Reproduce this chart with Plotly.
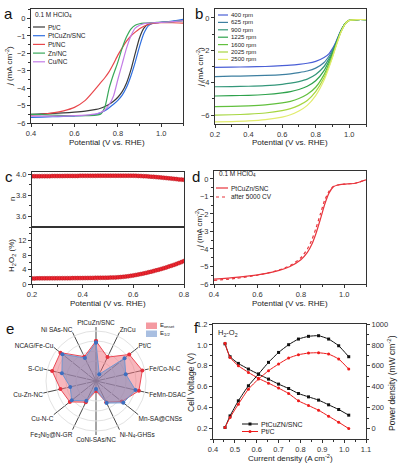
import plotly.graph_objects as go

W, H = 399, 464
FONT = "Liberation Sans, Arial, sans-serif"


def px(x):
    return x / W


def py(y):
    return 1 - y / H


# ---------------- Panel a data ----------------
a_potential = [0.40, 0.45, 0.50, 0.55, 0.60, 0.65, 0.70, 0.72, 0.74, 0.76, 0.78, 0.80,
               0.82, 0.84, 0.86, 0.88, 0.90, 0.92, 0.94, 0.96, 0.98, 1.00, 1.05, 1.10]
a_names = ["Pt/C", "PtCuZn/SNC", "Pt/NC", "Zn/NC", "Cu/NC"]
a_colors = ["#3a3a3a", "#2f6fe0", "#e8474c", "#38a85a", "#c27ce6"]
a_ptc = [-5.50, -5.48, -5.45, -5.42, -5.38, -5.32, -5.22, -5.15, -5.05, -4.92, -4.75, -4.52,
         -4.20, -3.70, -2.95, -2.00, -1.10, -0.55, -0.33, -0.26, -0.23, -0.22, -0.18, -0.10]
a_ptcuzn = [-5.68, -5.66, -5.64, -5.62, -5.60, -5.57, -5.50, -5.42, -5.30, -5.12, -4.92, -4.70,
            -4.40, -3.95, -3.30, -2.50, -1.60, -0.85, -0.42, -0.28, -0.23, -0.21, -0.15, -0.05]
a_ptnc = [-5.55, -5.50, -5.42, -5.30, -5.10, -4.70, -4.00, -3.70, -3.40, -3.05, -2.60, -2.10,
          -1.68, -1.30, -1.00, -0.78, -0.58, -0.44, -0.34, -0.28, -0.25, -0.24, -0.24, -0.26]
a_znnc = [-5.50, -5.52, -5.55, -5.57, -5.58, -5.58, -5.55, -5.50, -5.10, -4.00, -3.20, -2.50,
          -1.70, -1.05, -0.60, -0.38, -0.30, -0.26, -0.24, -0.23, -0.22, -0.21, -0.17, -0.12]
a_cunc = [-5.60, -5.60, -5.60, -5.60, -5.58, -5.55, -5.48, -5.40, -5.25, -4.95, -4.45, -3.50,
          -2.60, -1.70, -1.00, -0.55, -0.38, -0.30, -0.26, -0.24, -0.23, -0.22, -0.18, -0.12]
a_series = [a_ptc, a_ptcuzn, a_ptnc, a_znnc, a_cunc]

# ---------------- Panel b data ----------------
b_potential = [0.20, 0.30, 0.40, 0.50, 0.60, 0.65, 0.70, 0.75, 0.80, 0.85, 0.88, 0.90,
               0.92, 0.95, 0.98, 1.00, 1.05, 1.10]
b_names = ["400 rpm", "625 rpm", "900 rpm", "1225 rpm", "1600 rpm", "2025 rpm", "2500 rpm"]
b_colors = ["#4a5fd6", "#3d7fa0", "#34977a", "#2ea24c", "#62c03e", "#a6d640", "#e2ec6e"]
b_400 = [-3.05, -3.04, -3.02, -3.00, -2.95, -2.92, -2.87, -2.80, -2.68, -2.45, -2.20, -1.90,
         -1.50, -0.80, -0.30, -0.15, -0.10, -0.10]
b_625 = [-3.62, -3.60, -3.58, -3.55, -3.50, -3.45, -3.38, -3.28, -3.10, -2.75, -2.35, -2.00,
         -1.55, -0.80, -0.30, -0.15, -0.10, -0.10]
b_900 = [-4.25, -4.24, -4.22, -4.18, -4.10, -4.03, -3.93, -3.78, -3.50, -3.00, -2.50, -2.10,
         -1.60, -0.82, -0.30, -0.15, -0.10, -0.10]
b_1225 = [-4.82, -4.80, -4.78, -4.73, -4.63, -4.55, -4.42, -4.22, -3.88, -3.25, -2.65, -2.20,
          -1.65, -0.84, -0.30, -0.15, -0.10, -0.10]
b_1600 = [-5.48, -5.46, -5.43, -5.37, -5.25, -5.15, -4.98, -4.72, -4.28, -3.50, -2.80, -2.30,
          -1.70, -0.86, -0.30, -0.15, -0.10, -0.10]
b_2025 = [-6.00, -5.98, -5.94, -5.87, -5.72, -5.60, -5.40, -5.10, -4.55, -3.70, -2.95, -2.40,
          -1.75, -0.88, -0.32, -0.15, -0.10, -0.10]
b_2500 = [-6.42, -6.40, -6.36, -6.28, -6.12, -5.98, -5.75, -5.40, -4.80, -3.85, -3.05, -2.45,
          -1.80, -0.90, -0.32, -0.15, -0.10, -0.10]
b_series = [b_400, b_625, b_900, b_1225, b_1600, b_2025, b_2500]

# ---------------- Panel c data ----------------
c_potential = [round(0.20 + 0.01 * i, 2) for i in range(61)]
c_n = [3.980, 3.980, 3.980, 3.980, 3.981, 3.981, 3.981, 3.981, 3.982, 3.982,
       3.982, 3.982, 3.982, 3.983, 3.983, 3.983, 3.983, 3.983, 3.983, 3.984,
       3.984, 3.984, 3.984, 3.984, 3.984, 3.984, 3.985, 3.985, 3.985, 3.985,
       3.985, 3.985, 3.985, 3.985, 3.985, 3.985, 3.985, 3.985, 3.985, 3.985,
       3.985, 3.984, 3.983, 3.982, 3.981, 3.980, 3.978, 3.976, 3.974, 3.972,
       3.970, 3.968, 3.965, 3.963, 3.960, 3.958, 3.955, 3.953, 3.950, 3.948,
       3.946]
c_h2o2 = [1.55, 1.55, 1.56, 1.56, 1.57, 1.57, 1.58, 1.58, 1.59, 1.59,
          1.60, 1.60, 1.61, 1.61, 1.62, 1.62, 1.63, 1.63, 1.64, 1.64,
          1.65, 1.66, 1.67, 1.68, 1.69, 1.70, 1.71, 1.72, 1.73, 1.74,
          1.76, 1.78, 1.80, 1.83, 1.87, 1.92, 1.98, 2.06, 2.15, 2.26,
          2.38, 2.50, 2.63, 2.77, 2.92, 3.08, 3.24, 3.41, 3.59, 3.78,
          3.97, 4.17, 4.38, 4.60, 4.83, 5.06, 5.30, 5.55, 5.81, 6.08,
          6.36]

# ---------------- Panel d data ----------------
d_potential = [0.40, 0.50, 0.60, 0.70, 0.75, 0.80, 0.83, 0.85, 0.87, 0.89, 0.91, 0.93,
               0.95, 0.97, 1.00, 1.05, 1.10]
d_fresh = [-5.72, -5.62, -5.48, -5.22, -5.00, -4.62, -4.20, -3.75, -3.10, -2.30, -1.45, -0.80,
           -0.45, -0.35, -0.30, -0.25, -0.05]
d_after = [-5.80, -5.68, -5.50, -5.20, -4.95, -4.50, -4.00, -3.50, -2.80, -2.00, -1.20, -0.70,
           -0.42, -0.35, -0.30, -0.25, -0.05]

# ---------------- Panel e data ----------------
e_catalysts = ["PtCuZn/SNC", "ZnCu", "Pt/C", "Fe/Co-N-C", "FeMn-DSAC", "Mn-SA@CNSs",
               "Ni-N<sub>4</sub>-GHSs", "CoNi-SAs/NC", "Fe<sub>3</sub>Ni<sub>3</sub>@N-GR",
               "Cu-N-C", "Cu-Zn-NC", "S-Cu", "NCAG/Fe-Cu", "Ni SAs-NC"]
e_onset = [0.80, 0.53, 0.85, 0.95, 0.88, 0.66, 0.47, 0.20, 0.47, 0.67, 0.73, 0.90, 0.91, 0.54]
e_half = [0.77, 0.15, 0.73, 0.61, 0.81, 0.70, 0.49, 0.16, 0.44, 0.62, 0.53, 0.70, 0.86, 0.51]

# ---------------- Panel f data ----------------
f_current = [0.455, 0.478, 0.516, 0.562, 0.608, 0.654, 0.700, 0.746, 0.791, 0.837,
             0.883, 0.929, 0.975, 1.021]
f_v_ptcuzn = [1.01, 0.887, 0.823, 0.769, 0.720, 0.673, 0.625, 0.583, 0.535, 0.503,
              0.472, 0.427, 0.382, 0.328]
f_v_ptc = [1.015, 0.880, 0.800, 0.737, 0.680, 0.634, 0.587, 0.535, 0.465, 0.420,
           0.375, 0.318, 0.260, 0.200]
f_p_ptcuzn = [10, 121, 265, 409, 521, 633, 728, 802, 856, 882, 888, 856, 792, 687]
f_p_ptc = [10, 105, 233, 377, 473, 553, 617, 674, 706, 722, 725, 712, 665, 569]

# ---------------- figure ----------------
fig = go.Figure()

for name, col, ys in zip(a_names, a_colors, a_series):
    fig.add_trace(go.Scatter(x=a_potential, y=ys, mode="lines", name=name,
                             line=dict(color=col, width=1.2, shape="spline", smoothing=0.6),
                             xaxis="x", yaxis="y", showlegend=False))

for name, col, ys in zip(b_names, b_colors, b_series):
    fig.add_trace(go.Scatter(x=b_potential, y=ys, mode="lines", name=name,
                             line=dict(color=col, width=1.2, shape="spline", smoothing=0.6),
                             xaxis="x2", yaxis="y2", showlegend=False))

mk = dict(color="#ee2630", size=4, line=dict(color="#b5121b", width=0.5))
fig.add_trace(go.Scatter(x=c_potential, y=c_n, mode="markers", marker=mk,
                         xaxis="x3", yaxis="y3", showlegend=False))
fig.add_trace(go.Scatter(x=c_potential, y=c_h2o2, mode="markers", marker=mk,
                         xaxis="x4", yaxis="y4", showlegend=False))

fig.add_trace(go.Scatter(x=d_potential, y=d_fresh, mode="lines",
                         line=dict(color="#e8343c", width=1.2, shape="spline", smoothing=0.6),
                         xaxis="x5", yaxis="y5", showlegend=False))
fig.add_trace(go.Scatter(x=d_potential, y=d_after, mode="lines",
                         line=dict(color="#e8343c", width=1.2, dash="dot", shape="spline", smoothing=0.6),
                         xaxis="x5", yaxis="y5", showlegend=False))

# radar
fig.add_trace(go.Scatterpolar(r=e_onset + e_onset[:1], theta=e_catalysts + e_catalysts[:1],
                              fill="toself", fillcolor="rgba(240,110,122,0.5)",
                              line=dict(color="#ea4a56", width=1),
                              marker=dict(color="#e8303c", size=4), mode="lines+markers",
                              showlegend=False))
fig.add_trace(go.Scatterpolar(r=e_half + e_half[:1], theta=e_catalysts + e_catalysts[:1],
                              fill="toself", fillcolor="rgba(120,140,190,0.55)",
                              line=dict(color="#7096d0", width=1),
                              marker=dict(color="#3d6fc0", size=4), mode="lines+markers",
                              showlegend=False))

# panel f
fig.add_trace(go.Scatter(x=f_current, y=f_v_ptcuzn, mode="lines+markers",
                         line=dict(color="#111", width=1, shape="spline", smoothing=0.5),
                         marker=dict(symbol="square", size=3, color="#111"),
                         xaxis="x6", yaxis="y6", showlegend=False))
fig.add_trace(go.Scatter(x=f_current, y=f_v_ptc, mode="lines+markers",
                         line=dict(color="#ee1c1c", width=1, shape="spline", smoothing=0.5),
                         marker=dict(symbol="circle", size=3, color="#ee1c1c"),
                         xaxis="x6", yaxis="y6", showlegend=False))
fig.add_trace(go.Scatter(x=f_current, y=f_p_ptcuzn, mode="lines+markers",
                         line=dict(color="#111", width=1, shape="spline", smoothing=0.5),
                         marker=dict(symbol="square", size=3, color="#111"),
                         xaxis="x6", yaxis="y7", showlegend=False))
fig.add_trace(go.Scatter(x=f_current, y=f_p_ptc, mode="lines+markers",
                         line=dict(color="#ee1c1c", width=1, shape="spline", smoothing=0.5),
                         marker=dict(symbol="circle", size=3, color="#ee1c1c"),
                         xaxis="x6", yaxis="y7", showlegend=False))


def axis(x0, x1, rng, dtick, mdtick, anchor, fmt=None, labels=True, ticks="outside",
         tick0=None, side=None, overlaying=None, mirror=True):
    d = dict(range=rng, dtick=dtick, anchor=anchor, showline=True, linecolor="#333",
             linewidth=1, mirror=mirror, ticks=ticks, ticklen=3, tickwidth=1,
             tickcolor="#333", tickfont=dict(size=7.5, color="#333", family=FONT),
             showgrid=False, zeroline=False, showticklabels=labels, automargin=False,
             minor=dict(dtick=mdtick, ticks=ticks, ticklen=1.6, tickcolor="#333", showgrid=False))
    if x0 is not None:
        d["domain"] = [x0, x1]
    if fmt:
        d["tickformat"] = fmt
    if tick0 is not None:
        d["tick0"] = tick0
    if side:
        d["side"] = side
    if overlaying:
        d["overlaying"] = overlaying
    return d


layout = dict(width=W, height=H, margin=dict(l=0, r=0, t=0, b=0, pad=0),
              paper_bgcolor="white", plot_bgcolor="white",
              font=dict(family=FONT, size=8, color="#333"))

# a
layout["xaxis"] = axis(px(31), px(183), [0.4, 1.1], 0.2, 0.1, "y", ".1f")
layout["yaxis"] = axis(py(123), py(9), [-6, 0.55], 1, 0.5, "x")
# b
layout["xaxis2"] = axis(px(215), px(366), [0.2, 1.1], 0.2, 0.1, "y2", ".1f")
layout["yaxis2"] = axis(py(124), py(9), [-6.55, 0.55], 2, 1, "x2")
# c top
layout["xaxis3"] = axis(px(32), px(184), [0.2, 0.8], 0.2, 0.1, "y3", ".1f", labels=False, ticks="")
layout["yaxis3"] = axis(py(227), py(172), [3.5, 4.02], 0.2, 0.1, "x3", ".1f")
# c bottom
layout["xaxis4"] = axis(px(32), px(184), [0.2, 0.8], 0.2, 0.1, "y4", ".1f")
layout["yaxis4"] = axis(py(284), py(227), [0, 15.8], 4, 2, "x4")
# d
layout["xaxis5"] = axis(px(214), px(366), [0.4, 1.1], 0.2, 0.1, "y5", ".1f")
layout["yaxis5"] = axis(py(284), py(171), [-6, 0.45], 1, 0.5, "x5")
# f
layout["xaxis6"] = axis(px(213), px(366), [0.4, 1.1], 0.1, 0.05, "y6", ".1f")
layout["yaxis6"] = axis(py(439), py(324), [0.1, 1.2], 0.2, 0.1, "x6", ".1f", mirror=False)
layout["yaxis7"] = axis(None, None, [-100, 1000], 200, 100, "x6", side="right",
                        overlaying="y6", mirror=False)

layout["polar"] = dict(
    domain=dict(x=[px(42), px(150)], y=[py(435), py(327)]),
    bgcolor="white",
    radialaxis=dict(range=[0, 1.08], tickvals=[0.2, 0.4, 0.6, 0.8, 1.0],
                    showticklabels=False, ticks="", showline=False,
                    gridcolor="#e2e2e2", gridwidth=0.8),
    angularaxis=dict(direction="clockwise", rotation=90, showline=False, ticks="",
                     gridcolor="#4a4a4a", gridwidth=1.4, layer="above traces",
                     tickfont=dict(size=6.5, color="#222", family=FONT)),
)

shapes = []
annos = []


def text(x, y, s, size=7, xanchor="left", angle=0, color="#222"):
    annos.append(dict(x=px(x), y=py(y), xref="paper", yref="paper", text=s, showarrow=False,
                      xanchor=xanchor, yanchor="middle", textangle=angle,
                      font=dict(size=size, color=color, family=FONT)))


def seg(x0, x1, y, color, dash="solid", width=1.2):
    shapes.append(dict(type="line", xref="paper", yref="paper", x0=px(x0), x1=px(x1),
                       y0=py(y), y1=py(y), line=dict(color=color, width=width, dash=dash)))


def box(x0, x1, y0, y1, color, line="rgba(0,0,0,0)", kind="rect"):
    shapes.append(dict(type=kind, xref="paper", yref="paper", x0=px(x0), x1=px(x1),
                       y0=py(y1), y1=py(y0), fillcolor=color, line=dict(color=line, width=0.5)))


# panel letters
for letter, lx, ly in [("a", 2, 13), ("b", 193, 13), ("c", 3, 176), ("d", 190, 176),
                       ("e", 4, 328), ("f", 192, 327)]:
    text(lx, ly, letter, size=15, color="#111")

# axis titles
jlab = "<i>j</i> (mA cm<sup>-2</sup>)"
pot = "Potential (V vs. RHE)"
text(9, 66, jlab, size=8, xanchor="center", angle=-90)
text(107, 142.5, pot, size=8, xanchor="center")
text(200, 67, jlab, size=8, xanchor="center", angle=-90)
text(290, 142.5, pot, size=8, xanchor="center")
text(12, 199, "n", size=8, xanchor="center", angle=-90)
text(12, 256, "H<sub>2</sub>O<sub>2</sub> (%)", size=8, xanchor="center", angle=-90)
text(108, 303.5, pot, size=8, xanchor="center")
text(199, 228, jlab, size=8, xanchor="center", angle=-90)
text(290, 303.5, pot, size=8, xanchor="center")
text(191, 383, "Cell Voltage (V)", size=8.5, xanchor="center", angle=-90)
text(391, 383, "Power density (mW cm<sup>-2</sup>)", size=8.5, xanchor="center", angle=-90)
text(290, 457.5, "Current density (A cm<sup>-2</sup>)", size=8, xanchor="center")

# legend a
text(33, 15, "0.1 M HClO<sub>4</sub>", size=6.5)
for i, (name, col) in enumerate(zip(a_names, a_colors)):
    yy = 27 + 8.7 * i
    seg(33, 45, yy, col)
    text(46, yy, name, size=6.5)

# legend b
for i, (name, col) in enumerate(zip(b_names, b_colors)):
    yy = 15 + 7.4 * i
    seg(218, 228, yy, col)
    text(229, yy, name, size=6)

# legend d
text(217, 173.5, "0.1 M HClO<sub>4</sub>", size=6.5)
seg(216, 228, 188, "#e8343c")
text(229, 188, "PtCuZn/SNC", size=6.5)
seg(216, 228, 197, "#e8343c", dash="dot")
text(229, 197, "after 5000 CV", size=6.5)

# legend e
box(146, 157, 322.5, 329, "rgba(240,120,130,0.75)")
box(146, 157, 330.5, 337, "rgba(140,170,215,0.75)")
text(158, 325.5, "E<sub>onset</sub>", size=6)
text(158, 333.5, "E<sub>1/2</sub>", size=6)

# legend f
text(216, 333, "H<sub>2</sub>-O<sub>2</sub>", size=7.5)
seg(242, 258, 424, "#111", width=1)
box(248.5, 251.5, 422.5, 425.5, "#111")
text(259, 424, "PtCuZN/SNC", size=7)
seg(242, 258, 431.5, "#ee1c1c", width=1)
box(248.5, 251.5, 430, 433, "#ee1c1c", kind="circle")
text(259, 431.5, "Pt/C", size=7)

layout["shapes"] = shapes
layout["annotations"] = annos
fig.update_layout(**layout)

fig.write_html("out.html", config={"displayModeBar": False},
               post_script="document.body.style.margin='0px';document.body.style.overflow='hidden';")
